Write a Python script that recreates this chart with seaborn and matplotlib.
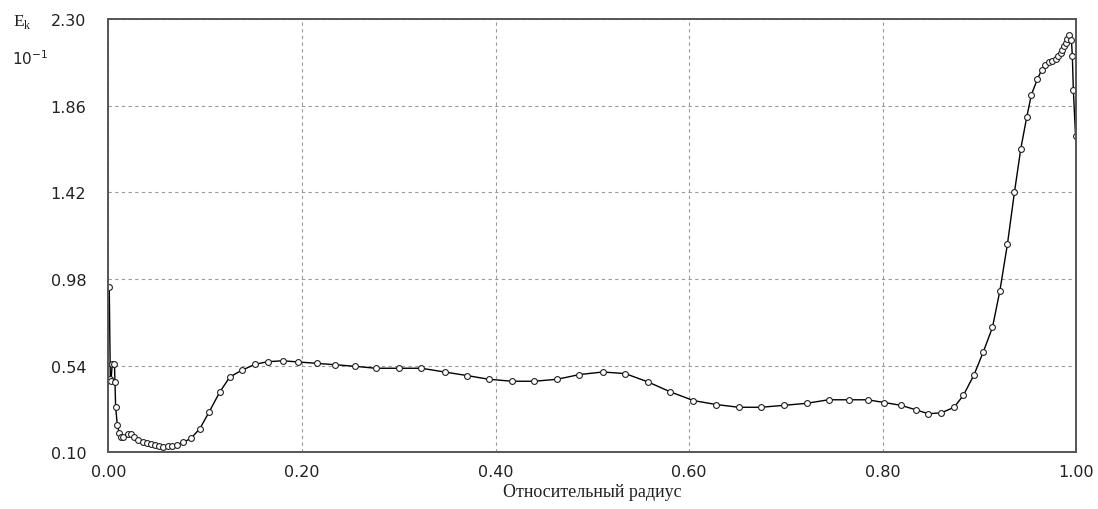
import matplotlib
matplotlib.use("Agg")
import matplotlib.pyplot as plt
import seaborn as sns
import numpy as np
import pandas as pd

# Relative radius and kinetic energy E_k (units of 10^-1)
radius = [
    0.0008, 0.0019, 0.0026, 0.0039, 0.0062, 0.0067, 0.0074, 0.0091, 0.0112, 0.0129,
    0.0153, 0.0198, 0.0229, 0.0263, 0.0308, 0.0353, 0.0394, 0.0439, 0.0483, 0.0525,
    0.0566, 0.0611, 0.0656, 0.0704, 0.0772, 0.0852, 0.0945, 0.1041, 0.1151, 0.1255,
    0.1375, 0.1513, 0.1644, 0.1799, 0.1960, 0.2150, 0.2339, 0.2545, 0.2762, 0.3003,
    0.3234, 0.3474, 0.3705, 0.3932, 0.4173, 0.4401, 0.4636, 0.4868, 0.5109, 0.5340,
    0.5574, 0.5808, 0.6045, 0.6280, 0.6513, 0.6744, 0.6985, 0.7215, 0.7442, 0.7656,
    0.7845, 0.8018, 0.8190, 0.8345, 0.8475, 0.8609, 0.8740, 0.8836, 0.8947, 0.9043,
    0.9136, 0.9212, 0.9291, 0.9363, 0.9429, 0.9491, 0.9539, 0.9601, 0.9646, 0.9680,
    0.9721, 0.9755, 0.9790, 0.9817, 0.9842, 0.9859, 0.9876, 0.9894, 0.9910, 0.9928,
    0.9952, 0.9962, 0.9972, 0.9995,
]
energy = [
    0.940, 0.470, 0.464, 0.550, 0.550, 0.457, 0.330, 0.240, 0.196, 0.176,
    0.180, 0.193, 0.193, 0.180, 0.162, 0.154, 0.146, 0.142, 0.137, 0.132,
    0.129, 0.132, 0.134, 0.137, 0.151, 0.171, 0.221, 0.306, 0.407, 0.483,
    0.516, 0.547, 0.560, 0.565, 0.559, 0.552, 0.545, 0.537, 0.527, 0.527,
    0.527, 0.508, 0.490, 0.471, 0.461, 0.461, 0.471, 0.495, 0.508, 0.500,
    0.458, 0.407, 0.363, 0.343, 0.329, 0.329, 0.339, 0.349, 0.367, 0.367,
    0.367, 0.353, 0.339, 0.316, 0.296, 0.301, 0.329, 0.390, 0.495, 0.612,
    0.734, 0.918, 1.157, 1.419, 1.641, 1.803, 1.916, 1.995, 2.042, 2.068,
    2.079, 2.084, 2.096, 2.110, 2.127, 2.144, 2.160, 2.177, 2.197, 2.217,
    2.194, 2.110, 1.941, 1.705,
]

x_ticks = [0.00, 0.20, 0.40, 0.60, 0.80, 1.00]
y_ticks = [0.10, 0.54, 0.98, 1.42, 1.86, 2.30]

df = pd.DataFrame({"r": radius, "ek": energy})

sns.set_style("white")
plt.rcParams["font.family"] = ["DejaVu Sans"]
plt.rcParams["axes.unicode_minus"] = False

fig = plt.figure(figsize=(10.98, 5.10), dpi=100)
ax = fig.add_axes([0.0988, 0.111, 0.8812, 0.850])

sns.lineplot(
    data=df, x="r", y="ek", ax=ax, sort=False, estimator=None,
    color="black", linewidth=1.0, marker="o", markersize=4.2,
    markerfacecolor="white", markeredgecolor="#222222", markeredgewidth=0.8,
)

ax.set_xlim(0, 1.0)
ax.set_ylim(0.10, 2.30)
ax.set_xticks(x_ticks)
ax.set_yticks(y_ticks)
ax.set_xticklabels([f"{v:.2f}" for v in x_ticks])
ax.set_yticklabels([f"{v:.2f}" for v in y_ticks])
ax.tick_params(axis="both", length=0, labelsize=11.5, colors="#222222")
ax.tick_params(axis="x", pad=8)
ax.tick_params(axis="y", pad=16)

ax.grid(True, linestyle=(0, (3, 3)), color="#9a9a9a", linewidth=0.8)
for s in ax.spines.values():
    s.set_color("#555555")
    s.set_linewidth(1.4)

ax.set_ylabel("")
ax.set_xlabel("Относительный радиус", family=["Liberation Serif", "DejaVu Serif"],
              fontsize=13, color="#222222", labelpad=3)

fig.text(0.012, 0.957, r"E$_{\mathregular{k}}$", family=["Liberation Serif", "DejaVu Serif"],
         fontsize=12.5, color="#222222", ha="left", va="center")
fig.text(0.011, 0.885, r"10$^{\mathregular{-1}}$", fontsize=11, color="#222222",
         ha="left", va="center")

fig.savefig("out.png", dpi=100)
